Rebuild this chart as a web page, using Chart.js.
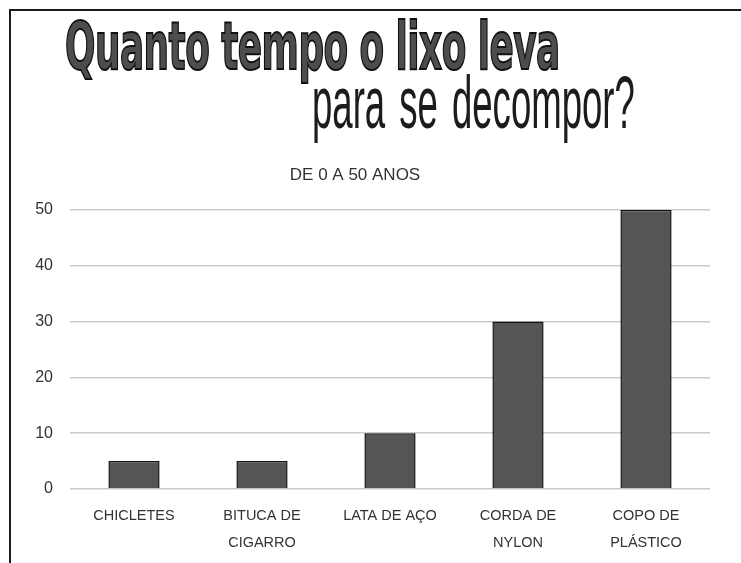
<!DOCTYPE html>
<html>
<head>
<meta charset="utf-8">
<script src="https://cdn.jsdelivr.net/npm/chart.js@4.4.1/dist/chart.umd.min.js"></script>
<style>
  html, body { margin: 0; padding: 0; background: #fff; }
  #wrap { position: relative; width: 741px; height: 563px; overflow: hidden; }
  #frame { position: absolute; left: 9px; top: 9px; right: -10px; bottom: -10px;
           border-left: 2px solid #1a1a1a; border-top: 2px solid #1a1a1a; }
  #chart { position: absolute; left: 0; top: 0; }
  .t { position: absolute; white-space: nowrap; transform-origin: 0 0; line-height: 1; }
  #t1 { left: 65px; top: 14px; font-family: "DejaVu Sans", sans-serif; font-weight: bold;
        font-size: 66px; color: #4d4d4d; -webkit-text-stroke: 2px #111; letter-spacing: -1px; }
  #t2 { left: 312px; top: 66px; font-family: "Liberation Sans Narrow", "Liberation Sans", sans-serif;
        font-size: 74px; color: #1c1c1c; word-spacing: 8px; }
</style>
</head>
<body>
<div id="wrap">
  <canvas id="chart" width="741" height="563"></canvas>
  <div id="frame"></div>
  <div class="t" id="t1">Quanto tempo o lixo leva</div>
  <div class="t" id="t2">para se decompor?</div>
</div>
<script>
const categories = [
    ['CHICLETES'],
    ['BITUCA DE', 'CIGARRO'],
    ['LATA DE AÇO'],
    ['CORDA DE', 'NYLON'],
    ['COPO DE', 'PLÁSTICO']
];
const anos = [5, 5, 10, 30, 50];
const yTicks = [0, 10, 20, 30, 40, 50];
const subtitleText = 'DE 0 A 50 ANOS';

// squeeze the title lines to the widths seen in the picture
function fitWidth(id, w) {
    const el = document.getElementById(id);
    const sx = w / el.offsetWidth;
    el.style.transform = 'scaleX(' + sx + ')';
}
fitWidth('t1', 495);
fitWidth('t2', 323);

const fam = '"Liberation Sans", Arial, sans-serif';

const ctx = document.getElementById('chart').getContext('2d');
let chart = new Chart(ctx, {
    type: 'bar',
    data: {
        labels: categories,
        datasets: [{
            data: anos,
            backgroundColor: '#555555',
            borderColor: '#111111',
            borderWidth: 1.5,
            categoryPercentage: 1,
            barPercentage: 0.4
        }]
    },
    options: {
        responsive: false,
        animation: false,
        layout: { padding: { top: 150, right: 31, bottom: 0, left: 0 } },
        plugins: {
            legend: { display: false },
            tooltip: { enabled: false },
            title: {
                display: true,
                text: subtitleText,
                color: '#333',
                font: { family: fam, size: 17, weight: 'normal' },
                padding: { top: 15, bottom: 24.6 }
            }
        },
        scales: {
            x: {
                grid: { display: false, drawTicks: false },
                border: { display: false },
                ticks: {
                    color: '#333',
                    font: { family: fam, size: 14.5, lineHeight: 1.86 },
                    padding: 13.5,
                    maxRotation: 0
                },
                afterFit: s => { s.height = 74; }
            },
            y: {
                min: 0,
                max: 50,
                afterBuildTicks: s => { s.ticks = yTicks.map(v => ({ value: v })); },
                grid: { color: '#cbcbcb', lineWidth: 1.5, drawTicks: false },
                border: { display: false },
                ticks: { color: '#333', font: { family: fam, size: 16 }, padding: 17 },
                afterFit: s => { s.width = 70; }
            }
        }
    }
});
</script>
</body>
</html>
